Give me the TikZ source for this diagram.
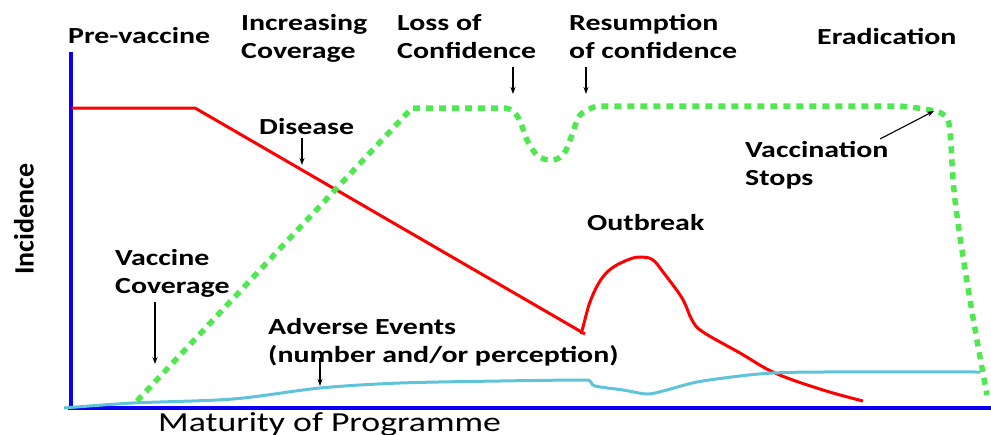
\documentclass[tikz,border=0pt]{standalone}
\usepackage{fontspec}
\usetikzlibrary{arrows.meta}
\newfontfamily\lbl[FakeStretch=1.3]{Carlito}
\newfontfamily\lblplain{Carlito}
\definecolor{axisblue}{RGB}{10,0,245}
\definecolor{disred}{RGB}{255,0,0}
\definecolor{vacgreen}{RGB}{80,232,80}
\definecolor{advblue}{RGB}{95,195,218}
\tikzset{
  lab/.style={font=\fontsize{23}{28}\lbl\bfseries, inner sep=0pt, anchor=base west, align=left},
  axisline/.style={axisblue, line width=4pt},
  disease/.style={disred, line width=3pt, line join=round},
  vacc/.style={vacgreen, line width=5.5pt, dash pattern=on 7pt off 6pt},
  adverse/.style={advblue, line width=3pt, line join=round},
  pointer/.style={black, line width=1.1pt, -{Stealth[length=7pt,width=5pt]}}
}
\begin{document}
\begin{tikzpicture}[x=1pt,y=-1pt]
\useasboundingbox (0,0) rectangle (991,434);
% axes
\draw[axisline] (71,52) -- (71,408);
\draw[axisline] (68,408) -- (991,408);
% disease
\draw[disease] (72,108) -- (195,108) -- (585,334);
\draw[disease] plot[smooth,tension=0.6] coordinates {(581,334)(583,327)(590,302)(600,281)(612,268)(630,259)(642,257)(653,260)(663,272)(682,298)(692,320)(703,332)(740,353)(775,373)(823,390)(863,401)};
% vaccine coverage
\draw[vacc] (137,401) -- (412,108) -- (505,108) -- plot[smooth,tension=0.6] coordinates {(505,108)(513,111)(520,121)(527,140)(537,155)(550,160)(563,155)(572,135)(580,115)(597,106)} -- (900,106) -- plot[smooth,tension=0.6] coordinates {(900,106)(930,110)(945,116)(950,132)(955,200)(970,300)(987,395)};
% adverse events
\draw[adverse] plot[smooth,tension=0.5] coordinates {(64,408)(133,403)(233,399)(320,388)(400,383)(500,381)(580,380)(590,381)(595,386)(623,390)(647,394)(663,391)(697,382)(740,376)(773,373)(823,372)(980,372)};
% labels (base anchor of a two-line node is its last line)
\node[lab] (pre) at (68,43) {Pre-vaccine};
\node[lab] (inc) at (241,58) {Increasing\\Coverage};
\node[lab] (loss) at (397,58) {Loss of\\Confidence};
\node[lab] (res) at (569,58) {Resumption\\of confidence};
\node[lab] (era) at (817,44) {Eradication};
\node[lab] (dis) at (259,134) {Disease};
\node[lab] (vst) at (745,185) {Vaccination\\Stops};
\node[lab] (out) at (587,230) {Outbreak};
\node[lab] (vcov) at (115,293) {Vaccine\\Coverage};
\node[lab] (adv) at (268,362) {Adverse Events\\(number and/or perception)};
\node[font=\fontsize{28}{30}\lblplain\bfseries, inner sep=0pt, rotate=90] (incid) at (24,219) {Incidence};
\node[font=\fontsize{27.5}{30}\lbl, inner sep=0pt, anchor=base west] (mat) at (158,431) {Maturity of Programme};
% pointers
\coordinate (disA) at (302,138); \coordinate (disB) at (302,165);
\coordinate (lossA) at (513,67); \coordinate (lossB) at (513,94);
\coordinate (resA) at (586,67); \coordinate (resB) at (586,94);
\coordinate (vstA) at (880,139); \coordinate (vstB) at (934,111);
\coordinate (vcA) at (155,302); \coordinate (vcB) at (155,364);
\coordinate (advA) at (320,358); \coordinate (advB) at (320,386);
\draw[pointer] (disA) -- (disB);
\draw[pointer] (lossA) -- (lossB);
\draw[pointer] (resA) -- (resB);
\draw[pointer] (vstA) -- (vstB);
\draw[pointer] (vcA) -- (vcB);
\draw[pointer] (advA) -- (advB);
\end{tikzpicture}
\end{document}
